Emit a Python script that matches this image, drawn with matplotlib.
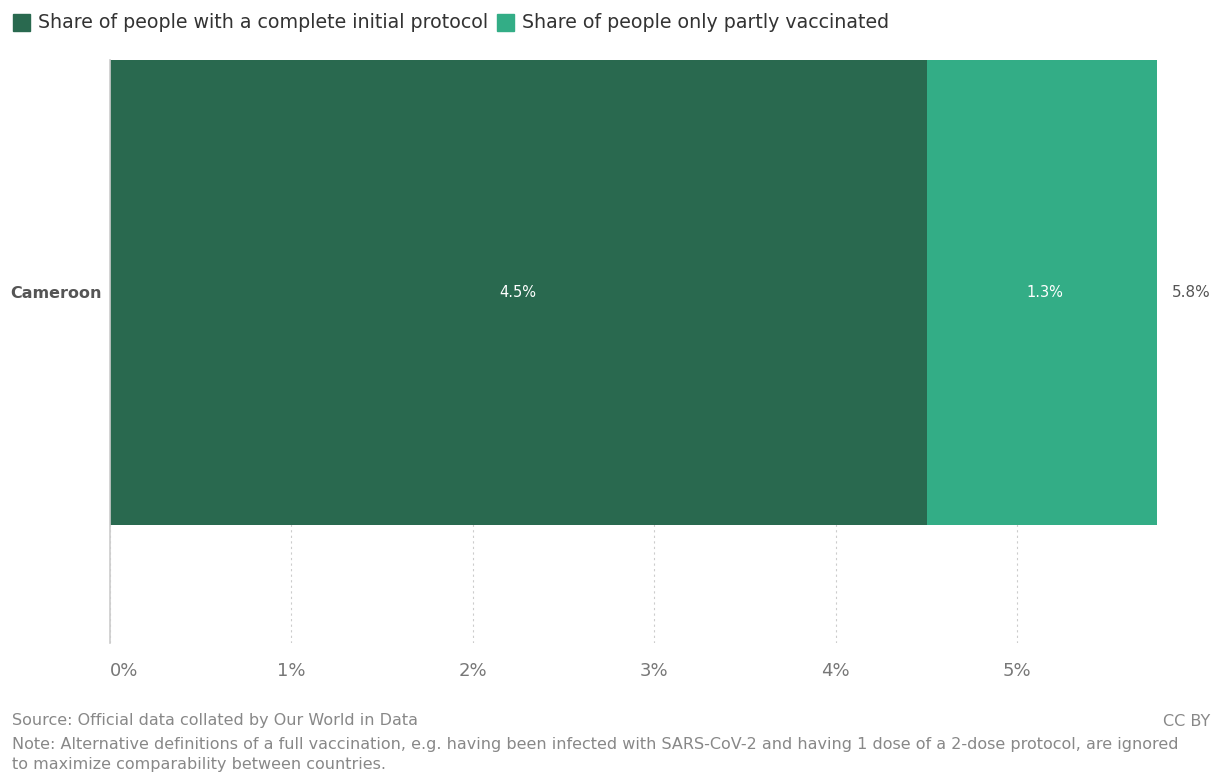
import matplotlib.pyplot as plt
from matplotlib.patches import Rectangle

countries = ['Cameroon']
complete = [4.5]
partly = [1.3]
total = [5.8]
ticks = [0, 1, 2, 3, 4, 5]

dark = '#29694f'
light = '#33ad86'

plt.rcParams['font.family'] = ['DejaVu Sans']

fig = plt.figure(figsize=(12.16, 7.74), dpi=100)
W, H = 1216, 774
ax = fig.add_axes([110 / W, 1 - 643 / H, (1157 - 110) / W, (643 - 60) / H])

ax.barh(countries, complete, height=1, color=dark, zorder=2)
ax.barh(countries, partly, left=complete, height=1, color=light, zorder=2)

for i, c in enumerate(countries):
    ax.text(complete[i] / 2, i, f'{complete[i]}%', color='white', ha='center', va='center', fontsize=10.5)
    ax.text(complete[i] + partly[i] / 2, i, f'{partly[i]}%', color='white', ha='center', va='center', fontsize=10.5)
    ax.text(total[i] + 0.05, i, f'{total[i]}%', color='#555555', ha='left', va='center', fontsize=11)

ax.set_xlim(0, 5.77)
ax.set_ylim(-0.754, 0.5)
ax.set_xticks(ticks)
ax.set_xticklabels([f'{t}%' for t in ticks], color='#777777', fontsize=13)
ax.get_xticklabels()[0].set_horizontalalignment('left')
ax.tick_params(axis='x', length=0, pad=14)
ax.tick_params(axis='y', length=0, pad=6)
for lbl in ax.get_yticklabels():
    lbl.set_fontweight('bold')
    lbl.set_color('#555555')
    lbl.set_fontsize(11.5)
ax.grid(axis='x', color='#cccccc', linestyle=(0, (2, 3)), linewidth=0.8, zorder=0)
for s in ['top', 'right', 'bottom']:
    ax.spines[s].set_visible(False)
ax.spines['left'].set_color('#cccccc')
ax.spines['left'].set_linewidth(1.2)

# legend
fig.patches.append(Rectangle((13 / W, 1 - 31 / H), 17 / W, 17 / H, color=dark, transform=fig.transFigure))
fig.text(38 / W, 1 - 22 / H, 'Share of people with a complete initial protocol', va='center', fontsize=13.7, color='#333333')
fig.patches.append(Rectangle((497 / W, 1 - 31 / H), 17 / W, 17 / H, color=light, transform=fig.transFigure))
fig.text(522 / W, 1 - 22 / H, 'Share of people only partly vaccinated', va='center', fontsize=13.7, color='#333333')

# footer
fig.text(12 / W, 1 - 721 / H, 'Source: Official data collated by Our World in Data', va='center', fontsize=11.5, color='#888888')
fig.text(1210 / W, 1 - 721 / H, 'CC BY', va='center', ha='right', fontsize=11.5, color='#888888')
fig.text(12 / W, 1 - 744 / H, 'Note: Alternative definitions of a full vaccination, e.g. having been infected with SARS-CoV-2 and having 1 dose of a 2-dose protocol, are ignored',
         va='center', fontsize=11.5, color='#888888')
fig.text(12 / W, 1 - 764 / H, 'to maximize comparability between countries.', va='center', fontsize=11.5, color='#888888')

fig.savefig('out.png', dpi=100)
